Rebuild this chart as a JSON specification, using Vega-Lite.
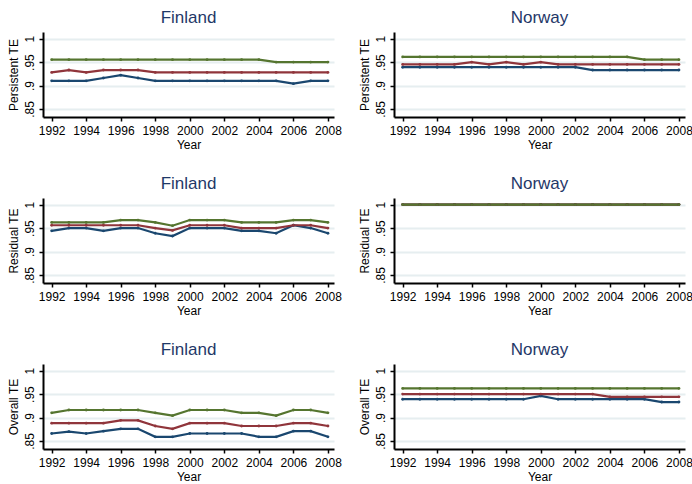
{
  "$schema": "https://vega.github.io/schema/vega-lite/v6.json",
  "background": "white",
  "padding": {"left": 7, "top": 9, "right": 0, "bottom": 0},
  "data": {"values": [
    {"panel":"FP","year":1992,"A":0.910,"B":0.928,"C":0.955},
    {"panel":"FP","year":1993,"A":0.910,"B":0.933,"C":0.955},
    {"panel":"FP","year":1994,"A":0.910,"B":0.928,"C":0.955},
    {"panel":"FP","year":1995,"A":0.916,"B":0.933,"C":0.955},
    {"panel":"FP","year":1996,"A":0.922,"B":0.933,"C":0.955},
    {"panel":"FP","year":1997,"A":0.916,"B":0.933,"C":0.955},
    {"panel":"FP","year":1998,"A":0.910,"B":0.928,"C":0.955},
    {"panel":"FP","year":1999,"A":0.910,"B":0.928,"C":0.955},
    {"panel":"FP","year":2000,"A":0.910,"B":0.928,"C":0.955},
    {"panel":"FP","year":2001,"A":0.910,"B":0.928,"C":0.955},
    {"panel":"FP","year":2002,"A":0.910,"B":0.928,"C":0.955},
    {"panel":"FP","year":2003,"A":0.910,"B":0.928,"C":0.955},
    {"panel":"FP","year":2004,"A":0.910,"B":0.928,"C":0.955},
    {"panel":"FP","year":2005,"A":0.910,"B":0.928,"C":0.950},
    {"panel":"FP","year":2006,"A":0.904,"B":0.928,"C":0.950},
    {"panel":"FP","year":2007,"A":0.910,"B":0.928,"C":0.950},
    {"panel":"FP","year":2008,"A":0.910,"B":0.928,"C":0.950},

    {"panel":"NP","year":1992,"A":0.939,"B":0.945,"C":0.961},
    {"panel":"NP","year":1993,"A":0.939,"B":0.945,"C":0.961},
    {"panel":"NP","year":1994,"A":0.939,"B":0.945,"C":0.961},
    {"panel":"NP","year":1995,"A":0.939,"B":0.945,"C":0.961},
    {"panel":"NP","year":1996,"A":0.939,"B":0.950,"C":0.961},
    {"panel":"NP","year":1997,"A":0.939,"B":0.945,"C":0.961},
    {"panel":"NP","year":1998,"A":0.939,"B":0.950,"C":0.961},
    {"panel":"NP","year":1999,"A":0.939,"B":0.945,"C":0.961},
    {"panel":"NP","year":2000,"A":0.939,"B":0.950,"C":0.961},
    {"panel":"NP","year":2001,"A":0.939,"B":0.945,"C":0.961},
    {"panel":"NP","year":2002,"A":0.939,"B":0.945,"C":0.961},
    {"panel":"NP","year":2003,"A":0.933,"B":0.945,"C":0.961},
    {"panel":"NP","year":2004,"A":0.933,"B":0.945,"C":0.961},
    {"panel":"NP","year":2005,"A":0.933,"B":0.945,"C":0.961},
    {"panel":"NP","year":2006,"A":0.933,"B":0.945,"C":0.955},
    {"panel":"NP","year":2007,"A":0.933,"B":0.945,"C":0.955},
    {"panel":"NP","year":2008,"A":0.933,"B":0.945,"C":0.955},

    {"panel":"FR","year":1992,"A":0.944,"B":0.956,"C":0.962},
    {"panel":"FR","year":1993,"A":0.950,"B":0.956,"C":0.962},
    {"panel":"FR","year":1994,"A":0.950,"B":0.956,"C":0.962},
    {"panel":"FR","year":1995,"A":0.944,"B":0.956,"C":0.962},
    {"panel":"FR","year":1996,"A":0.950,"B":0.956,"C":0.967},
    {"panel":"FR","year":1997,"A":0.950,"B":0.956,"C":0.967},
    {"panel":"FR","year":1998,"A":0.939,"B":0.950,"C":0.962},
    {"panel":"FR","year":1999,"A":0.933,"B":0.945,"C":0.955},
    {"panel":"FR","year":2000,"A":0.950,"B":0.956,"C":0.967},
    {"panel":"FR","year":2001,"A":0.950,"B":0.956,"C":0.967},
    {"panel":"FR","year":2002,"A":0.950,"B":0.956,"C":0.967},
    {"panel":"FR","year":2003,"A":0.944,"B":0.950,"C":0.962},
    {"panel":"FR","year":2004,"A":0.944,"B":0.950,"C":0.962},
    {"panel":"FR","year":2005,"A":0.939,"B":0.950,"C":0.962},
    {"panel":"FR","year":2006,"A":0.956,"B":0.956,"C":0.967},
    {"panel":"FR","year":2007,"A":0.950,"B":0.956,"C":0.967},
    {"panel":"FR","year":2008,"A":0.939,"B":0.950,"C":0.962},

    {"panel":"NR","year":1992,"A":1.0,"B":1.0,"C":1.0},
    {"panel":"NR","year":1993,"A":1.0,"B":1.0,"C":1.0},
    {"panel":"NR","year":1994,"A":1.0,"B":1.0,"C":1.0},
    {"panel":"NR","year":1995,"A":1.0,"B":1.0,"C":1.0},
    {"panel":"NR","year":1996,"A":1.0,"B":1.0,"C":1.0},
    {"panel":"NR","year":1997,"A":1.0,"B":1.0,"C":1.0},
    {"panel":"NR","year":1998,"A":1.0,"B":1.0,"C":1.0},
    {"panel":"NR","year":1999,"A":1.0,"B":1.0,"C":1.0},
    {"panel":"NR","year":2000,"A":1.0,"B":1.0,"C":1.0},
    {"panel":"NR","year":2001,"A":1.0,"B":1.0,"C":1.0},
    {"panel":"NR","year":2002,"A":1.0,"B":1.0,"C":1.0},
    {"panel":"NR","year":2003,"A":1.0,"B":1.0,"C":1.0},
    {"panel":"NR","year":2004,"A":1.0,"B":1.0,"C":1.0},
    {"panel":"NR","year":2005,"A":1.0,"B":1.0,"C":1.0},
    {"panel":"NR","year":2006,"A":1.0,"B":1.0,"C":1.0},
    {"panel":"NR","year":2007,"A":1.0,"B":1.0,"C":1.0},
    {"panel":"NR","year":2008,"A":1.0,"B":1.0,"C":1.0},

    {"panel":"FO","year":1992,"A":0.866,"B":0.888,"C":0.910},
    {"panel":"FO","year":1993,"A":0.870,"B":0.888,"C":0.916},
    {"panel":"FO","year":1994,"A":0.866,"B":0.888,"C":0.916},
    {"panel":"FO","year":1995,"A":0.871,"B":0.888,"C":0.916},
    {"panel":"FO","year":1996,"A":0.876,"B":0.894,"C":0.916},
    {"panel":"FO","year":1997,"A":0.876,"B":0.894,"C":0.916},
    {"panel":"FO","year":1998,"A":0.859,"B":0.882,"C":0.910},
    {"panel":"FO","year":1999,"A":0.859,"B":0.876,"C":0.904},
    {"panel":"FO","year":2000,"A":0.866,"B":0.888,"C":0.916},
    {"panel":"FO","year":2001,"A":0.866,"B":0.888,"C":0.916},
    {"panel":"FO","year":2002,"A":0.866,"B":0.888,"C":0.916},
    {"panel":"FO","year":2003,"A":0.866,"B":0.882,"C":0.910},
    {"panel":"FO","year":2004,"A":0.859,"B":0.882,"C":0.910},
    {"panel":"FO","year":2005,"A":0.859,"B":0.882,"C":0.904},
    {"panel":"FO","year":2006,"A":0.871,"B":0.888,"C":0.916},
    {"panel":"FO","year":2007,"A":0.871,"B":0.888,"C":0.916},
    {"panel":"FO","year":2008,"A":0.859,"B":0.882,"C":0.910},

    {"panel":"NO","year":1992,"A":0.939,"B":0.950,"C":0.962},
    {"panel":"NO","year":1993,"A":0.939,"B":0.950,"C":0.962},
    {"panel":"NO","year":1994,"A":0.939,"B":0.950,"C":0.962},
    {"panel":"NO","year":1995,"A":0.939,"B":0.950,"C":0.962},
    {"panel":"NO","year":1996,"A":0.939,"B":0.950,"C":0.962},
    {"panel":"NO","year":1997,"A":0.939,"B":0.950,"C":0.962},
    {"panel":"NO","year":1998,"A":0.939,"B":0.950,"C":0.962},
    {"panel":"NO","year":1999,"A":0.939,"B":0.950,"C":0.962},
    {"panel":"NO","year":2000,"A":0.946,"B":0.950,"C":0.962},
    {"panel":"NO","year":2001,"A":0.939,"B":0.950,"C":0.962},
    {"panel":"NO","year":2002,"A":0.939,"B":0.950,"C":0.962},
    {"panel":"NO","year":2003,"A":0.939,"B":0.950,"C":0.962},
    {"panel":"NO","year":2004,"A":0.939,"B":0.944,"C":0.962},
    {"panel":"NO","year":2005,"A":0.939,"B":0.944,"C":0.962},
    {"panel":"NO","year":2006,"A":0.939,"B":0.944,"C":0.962},
    {"panel":"NO","year":2007,"A":0.933,"B":0.944,"C":0.962},
    {"panel":"NO","year":2008,"A":0.933,"B":0.944,"C":0.962}
  ]},
  "columns": 2,
  "bounds": "flush",
  "spacing": {"row": 81, "column": 60},
  "concat": [
    {
      "title": "Finland", "width": 291, "height": 85,
      "transform": [{"filter": "datum.panel === 'FP'"}, {"fold": ["A", "B", "C"], "as": ["s", "v"]}],
      "encoding": {
        "x": {"field": "year", "type": "quantitative", "scale": {"domain": [1991.5, 2008.35], "nice": false, "zero": false}, "axis": {"values": [1992,1994,1996,1998,2000,2002,2004,2006,2008], "format": "d", "title": "Year"}},
        "y": {"field": "v", "type": "quantitative", "scale": {"domain": [0.833, 1.014], "nice": false, "zero": false}, "axis": {"values": [0.85, 0.9, 0.95, 1], "title": "Persistent TE", "labelExpr": "datum.value >= 0.999 ? '1' : substring(format(datum.value, '.2~f'), 1)"}},
        "color": {"field": "s", "type": "nominal", "scale": {"domain": ["A", "B", "C"], "range": ["#1a476f", "#90353b", "#55752f"]}, "legend": null}
      },
      "layer": [
        {"mark": {"type": "line", "strokeWidth": 2.2}},
        {"mark": {"type": "point", "filled": true, "size": 8, "opacity": 1}}
      ]
    },
    {
      "title": "Norway", "width": 291, "height": 85,
      "transform": [{"filter": "datum.panel === 'NP'"}, {"fold": ["A", "B", "C"], "as": ["s", "v"]}],
      "encoding": {
        "x": {"field": "year", "type": "quantitative", "scale": {"domain": [1991.5, 2008.35], "nice": false, "zero": false}, "axis": {"values": [1992,1994,1996,1998,2000,2002,2004,2006,2008], "format": "d", "title": "Year"}},
        "y": {"field": "v", "type": "quantitative", "scale": {"domain": [0.833, 1.014], "nice": false, "zero": false}, "axis": {"values": [0.85, 0.9, 0.95, 1], "title": "Persistent TE", "labelExpr": "datum.value >= 0.999 ? '1' : substring(format(datum.value, '.2~f'), 1)"}},
        "color": {"field": "s", "type": "nominal", "scale": {"domain": ["A", "B", "C"], "range": ["#1a476f", "#90353b", "#55752f"]}, "legend": null}
      },
      "layer": [
        {"mark": {"type": "line", "strokeWidth": 2.2}},
        {"mark": {"type": "point", "filled": true, "size": 8, "opacity": 1}}
      ]
    },
    {
      "title": "Finland", "width": 291, "height": 85,
      "transform": [{"filter": "datum.panel === 'FR'"}, {"fold": ["A", "B", "C"], "as": ["s", "v"]}],
      "encoding": {
        "x": {"field": "year", "type": "quantitative", "scale": {"domain": [1991.5, 2008.35], "nice": false, "zero": false}, "axis": {"values": [1992,1994,1996,1998,2000,2002,2004,2006,2008], "format": "d", "title": "Year"}},
        "y": {"field": "v", "type": "quantitative", "scale": {"domain": [0.833, 1.014], "nice": false, "zero": false}, "axis": {"values": [0.85, 0.9, 0.95, 1], "title": "Residual TE", "labelExpr": "datum.value >= 0.999 ? '1' : substring(format(datum.value, '.2~f'), 1)"}},
        "color": {"field": "s", "type": "nominal", "scale": {"domain": ["A", "B", "C"], "range": ["#1a476f", "#90353b", "#55752f"]}, "legend": null}
      },
      "layer": [
        {"mark": {"type": "line", "strokeWidth": 2.2}},
        {"mark": {"type": "point", "filled": true, "size": 8, "opacity": 1}}
      ]
    },
    {
      "title": "Norway", "width": 291, "height": 85,
      "transform": [{"filter": "datum.panel === 'NR'"}, {"fold": ["A", "B", "C"], "as": ["s", "v"]}],
      "encoding": {
        "x": {"field": "year", "type": "quantitative", "scale": {"domain": [1991.5, 2008.35], "nice": false, "zero": false}, "axis": {"values": [1992,1994,1996,1998,2000,2002,2004,2006,2008], "format": "d", "title": "Year"}},
        "y": {"field": "v", "type": "quantitative", "scale": {"domain": [0.833, 1.014], "nice": false, "zero": false}, "axis": {"values": [0.85, 0.9, 0.95, 1], "title": "Residual TE", "labelExpr": "datum.value >= 0.999 ? '1' : substring(format(datum.value, '.2~f'), 1)"}},
        "color": {"field": "s", "type": "nominal", "scale": {"domain": ["A", "B", "C"], "range": ["#1a476f", "#90353b", "#55752f"]}, "legend": null}
      },
      "layer": [
        {"mark": {"type": "line", "strokeWidth": 2.2}},
        {"mark": {"type": "point", "filled": true, "size": 8, "opacity": 1}}
      ]
    },
    {
      "title": "Finland", "width": 291, "height": 85,
      "transform": [{"filter": "datum.panel === 'FO'"}, {"fold": ["A", "B", "C"], "as": ["s", "v"]}],
      "encoding": {
        "x": {"field": "year", "type": "quantitative", "scale": {"domain": [1991.5, 2008.35], "nice": false, "zero": false}, "axis": {"values": [1992,1994,1996,1998,2000,2002,2004,2006,2008], "format": "d", "title": "Year"}},
        "y": {"field": "v", "type": "quantitative", "scale": {"domain": [0.833, 1.014], "nice": false, "zero": false}, "axis": {"values": [0.85, 0.9, 0.95, 1], "title": "Overall TE", "labelExpr": "datum.value >= 0.999 ? '1' : substring(format(datum.value, '.2~f'), 1)"}},
        "color": {"field": "s", "type": "nominal", "scale": {"domain": ["A", "B", "C"], "range": ["#1a476f", "#90353b", "#55752f"]}, "legend": null}
      },
      "layer": [
        {"mark": {"type": "line", "strokeWidth": 2.2}},
        {"mark": {"type": "point", "filled": true, "size": 8, "opacity": 1}}
      ]
    },
    {
      "title": "Norway", "width": 291, "height": 85,
      "transform": [{"filter": "datum.panel === 'NO'"}, {"fold": ["A", "B", "C"], "as": ["s", "v"]}],
      "encoding": {
        "x": {"field": "year", "type": "quantitative", "scale": {"domain": [1991.5, 2008.35], "nice": false, "zero": false}, "axis": {"values": [1992,1994,1996,1998,2000,2002,2004,2006,2008], "format": "d", "title": "Year"}},
        "y": {"field": "v", "type": "quantitative", "scale": {"domain": [0.833, 1.014], "nice": false, "zero": false}, "axis": {"values": [0.85, 0.9, 0.95, 1], "title": "Overall TE", "labelExpr": "datum.value >= 0.999 ? '1' : substring(format(datum.value, '.2~f'), 1)"}},
        "color": {"field": "s", "type": "nominal", "scale": {"domain": ["A", "B", "C"], "range": ["#1a476f", "#90353b", "#55752f"]}, "legend": null}
      },
      "layer": [
        {"mark": {"type": "line", "strokeWidth": 2.2}},
        {"mark": {"type": "point", "filled": true, "size": 8, "opacity": 1}}
      ]
    }
  ],
  "config": {
    "view": {"stroke": null},
    "font": "Liberation Sans",
    "title": {"fontSize": 17, "fontWeight": "normal", "color": "#1f3868", "offset": 5, "anchor": "middle", "font": "Liberation Sans"},
    "axis": {
      "domainColor": "black", "domainWidth": 2, "tickColor": "black", "tickWidth": 1.5, "tickSize": 4,
      "labelFontSize": 12, "labelColor": "black", "labelFont": "Liberation Sans",
      "titleFontSize": 12, "titleFontWeight": "normal", "titleColor": "black", "titleFont": "Liberation Sans"
    },
    "axisX": {"grid": false, "labelPadding": 4, "titlePadding": 3, "labelFlush": false, "labelOverlap": false},
    "axisY": {"grid": true, "gridColor": "#e6eef0", "gridWidth": 2, "labelAngle": -90, "labelAlign": "center", "labelBaseline": "bottom", "labelPadding": 3, "titlePadding": 3, "labelOverlap": false}
  }
}
